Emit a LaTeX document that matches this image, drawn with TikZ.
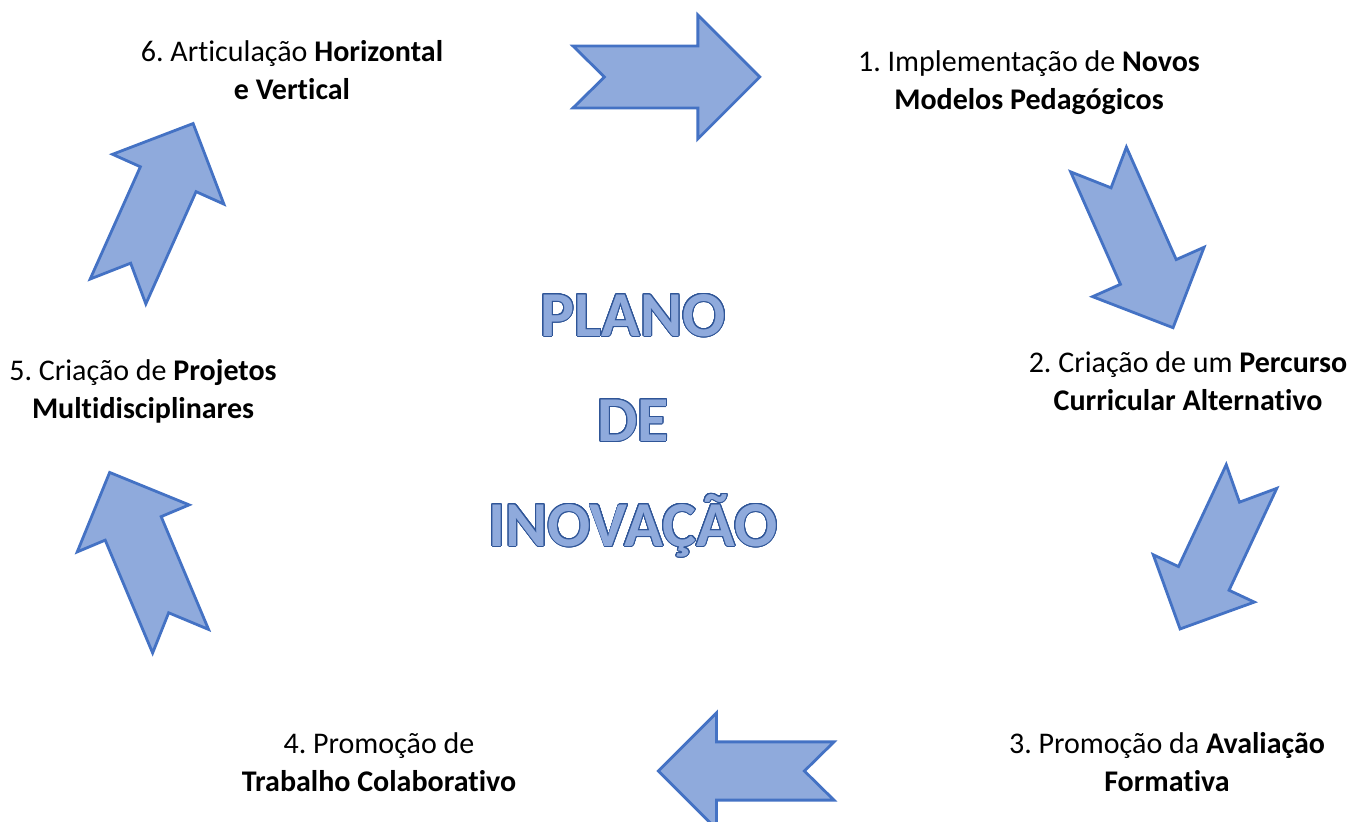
\documentclass[tikz,border=0pt]{standalone}
\usepackage{fontspec}
\setmainfont{Carlito}[Ligatures=NoCommon]
\usepackage{xcolor}
\usepackage{contour}
\usepackage{tikz}
\definecolor{arrowfill}{HTML}{8FAADC}
\definecolor{arrowline}{HTML}{4472C4}
\definecolor{titleline}{HTML}{2F5597}
\contourlength{0.45pt}
\contournumber{24}
\frenchspacing

\begin{document}
\begin{tikzpicture}[x=0.5pt, y=-0.5pt,
  blockarrow/.style={fill=arrowfill, draw=arrowline, line width=1.4pt, line join=miter},
  stagetext/.style={align=center, font=\fontsize{15}{19}\selectfont},
  titletext/.style={align=center, text=arrowfill, font=\fontsize{32}{52.5}\selectfont\bfseries},
  pics/chevron/.style={code={
    \draw[blockarrow] (0,-30.5) -- (31,0) -- (0,30.5) -- (123,30.5) -- (123,61)
      -- (184,0) -- (123,-61) -- (123,-30.5) -- cycle;
  }}]
  \useasboundingbox (0,0) rectangle (1347,822);

  % the six block arrows round the cycle
  \pic[scale=1.015]              at (573,77)       {chevron};
  \pic[rotate=-66.1]             at (1098.5,159.5) {chevron};
  \pic[rotate=-115.1, scale=0.915] at (1251.5,476.5) {chevron};
  \pic[rotate=180, scale=0.955]  at (834,771)      {chevron};
  \pic[rotate=112.8, scale=0.995] at (180.6,641.2) {chevron};
  \pic[rotate=65.9]              at (118,291.5)    {chevron};

  % stages
  \node[stagetext] (stage 1) at (1029,83)
  {1. Implementação de \textbf{Novos}\\\textbf{Modelos Pedagógicos}};
  \node[stagetext] (stage 2) at (1188,381)
  {2. Criação de um \textbf{Percurso}\\\textbf{Curricular Alternativo}};
  \node[stagetext] (stage 3) at (1167,762)
  {3. Promoção da \textbf{Avaliação}\\\textbf{Formativa}};
  \node[stagetext] (stage 4) at (379,762)
  {4. Promoção de\\\textbf{Trabalho Colaborativo}};
  \node[stagetext] (stage 5) at (143,391)
  {5. Criação de \textbf{Projetos}\\\textbf{Multidisciplinares}};
  \node[stagetext] (stage 6) at (292,70)
  {6. Articulação \textbf{Horizontal}\\\textbf{e Vertical}};

  \node[titletext] (plan) at (633,426)
  {\contour{titleline}{PLANO}\\\contour{titleline}{DE}\\\contour{titleline}{INOVAÇÃO}};
\end{tikzpicture}
\end{document}
